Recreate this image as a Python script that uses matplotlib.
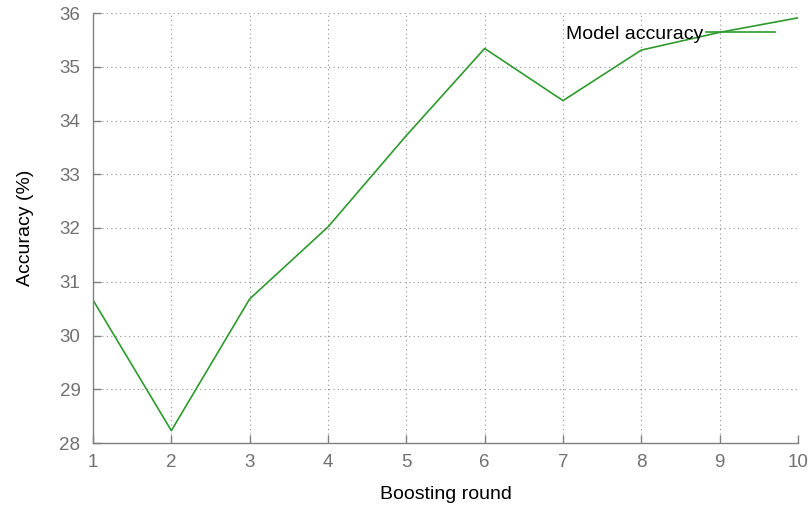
import matplotlib
matplotlib.use("Agg")
import matplotlib.pyplot as plt

rounds = [1, 2, 3, 4, 5, 6, 7, 8, 9, 10]
accuracy = [30.66, 28.23, 30.68, 32.02, 33.72, 35.34, 34.37, 35.31, 35.64, 35.91]
x_ticks = [1, 2, 3, 4, 5, 6, 7, 8, 9, 10]
y_ticks = [28, 29, 30, 31, 32, 33, 34, 35, 36]

plt.rcParams['font.family'] = ['Liberation Sans', 'DejaVu Sans']

fig = plt.figure(figsize=(8.12, 5.08), dpi=100)
ax = fig.add_axes([93/812, 1-443/508, (798-93)/812, (443-13)/508])

ax.plot(rounds, accuracy, color='#2e9a2e', lw=1.2, label='Model accuracy')

ax.set_xlim(1, 10)
ax.set_ylim(28, 36)
ax.set_xticks(x_ticks)
ax.set_yticks(y_ticks)

ax.grid(True, linestyle=(0, (1, 3)), color='#909090', lw=0.8)
for s in ['top', 'right']:
    ax.spines[s].set_visible(False)
for s in ['left', 'bottom']:
    ax.spines[s].set_color('#808080')
    ax.spines[s].set_linewidth(1.0)

ax.tick_params(direction='in', length=6, width=1, color='#808080',
               labelcolor='#707070', labelsize=13.5)
ax.tick_params(axis='x', pad=8)
ax.tick_params(axis='y', pad=9)

ax.set_xlabel('Boosting round', fontsize=14, labelpad=10.5)
ax.set_ylabel('Accuracy (%)', fontsize=14, labelpad=18)

ax.legend(loc='upper right', bbox_to_anchor=(0.967, 0.972), frameon=False,
          markerfirst=False, fontsize=14, handlelength=3.55, handletextpad=0.15,
          borderpad=0, borderaxespad=0)

fig.savefig('out.png', dpi=100)
